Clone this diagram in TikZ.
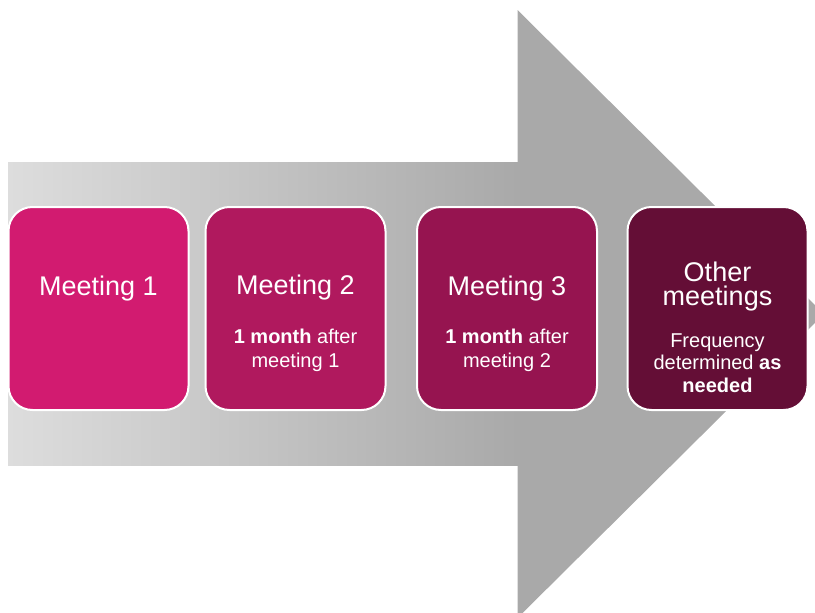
\documentclass[tikz,border=0pt]{standalone}
\usepackage{fontspec}
\setmainfont{Liberation Sans}
\newcommand{\cstack}[1]{\vtop{\halign{\hfil##\hfil\cr#1\cr}}}
\begin{document}
\begin{tikzpicture}[x=1pt,y=-1pt,
  mbox/.style={draw=white, line width=2pt, rounded corners=24pt, minimum width=180pt, minimum height=203pt, inner sep=0pt},
  title/.style={text=white, font=\fontsize{27}{24}\selectfont, anchor=base, inner sep=0pt},
  sub/.style={text=white, font=\fontsize{20}{24.5}\selectfont, anchor=base, inner sep=0pt},
  subtight/.style={text=white, font=\fontsize{20}{22.5}\selectfont, anchor=base, inner sep=0pt}]
\definecolor{arrowgray}{HTML}{A9A9A9}
\definecolor{shaftlight}{HTML}{DDDDDD}
\definecolor{cA}{HTML}{D21B70}
\definecolor{cB}{HTML}{B0195E}
\definecolor{cC}{HTML}{961450}
\definecolor{cD}{HTML}{640E36}
\useasboundingbox (0,0) rectangle (815,613);
\clip (0,0) rectangle (815,613);
% arrow
\fill[arrowgray] (8,162) -- (517.5,162) -- (517.5,10) -- (824,314) -- (517.5,618) -- (517.5,465) -- (8,465) -- cycle;
\shade[left color=shaftlight, right color=arrowgray] (8,162) rectangle (518,465);
% boxes
\node[mbox, fill=cA] (m1) at (98.5,308.5) {};
\node[mbox, fill=cB] (m2) at (295.5,308.5) {};
\node[mbox, fill=cC] (m3) at (507,308.5) {};
\node[mbox, fill=cD] (m4) at (717.5,308.5) {};
% texts
\node[title] (t1) at (98.5,295) {Meeting 1};
\node[title] (t2) at (295.5,294) {Meeting 2};
\node[sub] (t2a) at (295.5,343) {\cstack{\textbf{1 month} after\cr meeting 1}};
\node[title] (t3) at (507,295) {Meeting 3};
\node[sub] (t3a) at (507,343) {\cstack{\textbf{1 month} after\cr meeting 2}};
\node[title] (t4) at (717.5,281) {\cstack{Other\cr meetings}};
\node[subtight] (t4c) at (717.5,347) {\cstack{Frequency\cr determined \textbf{as}\cr \textbf{needed}}};
\end{tikzpicture}
\end{document}
